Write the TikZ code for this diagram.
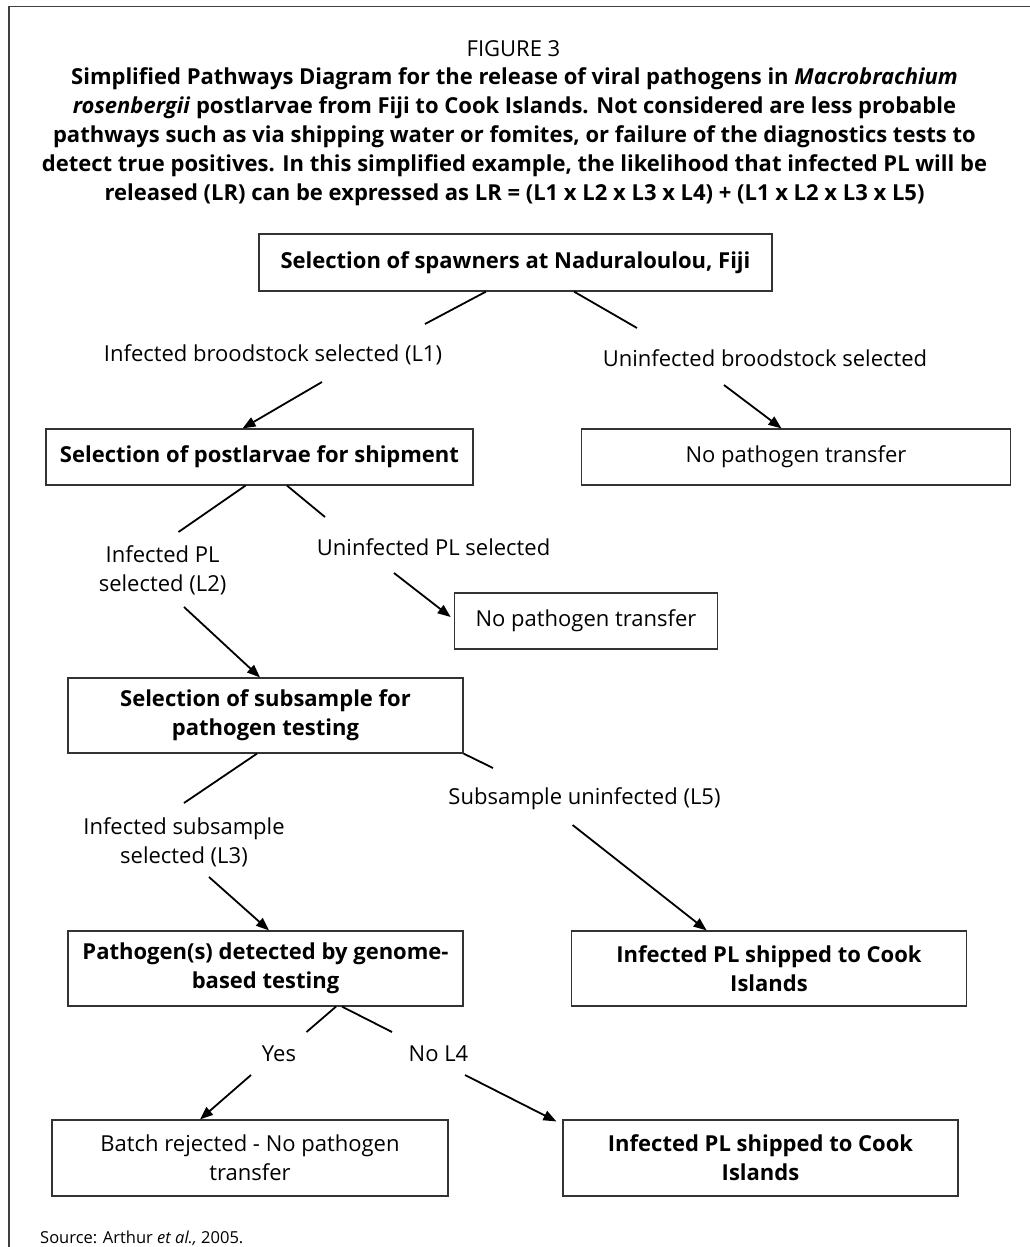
\documentclass[tikz,border=0pt]{standalone}
\usepackage{fontspec}
\setmainfont{Open Sans}
\usetikzlibrary{arrows.meta}
\begin{document}
\begin{tikzpicture}[x=1pt,y=-1pt,
  base/.style={font=\fontsize{22}{29}\selectfont, inner sep=0pt, align=center},
  box/.style={base, draw=black!80, line width=1.2pt},
  bbox/.style={box, font=\fontsize{22}{29}\selectfont\bfseries},
  lbl/.style={base},
  conn/.style={line width=1.8pt, black},
  arr/.style={conn, -{Triangle[length=13pt,width=10pt]}}]
\useasboundingbox (0,0) rectangle (1030,1247);
% frame
\draw[line width=1.6pt, black!75] (9,1260) -- (9,6.5) -- (1040,6.5);

% heading
\node[base] (fig) at (513.5,49) {FIGURE 3};
\node[base, font=\fontsize{22}{29}\selectfont\bfseries] (title) at (514.5,137)
 {Simplified Pathways Diagram for the release of viral pathogens in \textit{Macrobrachium}\\
  \textit{rosenbergii} postlarvae from Fiji to Cook Islands. Not considered are less probable\\
  pathways such as via shipping water or fomites, or failure of the diagnostics tests to\\
  detect true positives. In this simplified example, the likelihood that infected PL will be\\
  released (LR) can be expressed as LR = (L1 x L2 x L3 x L4) + (L1 x L2 x L3 x L5)};

% boxes
\node[bbox, minimum width=513pt, minimum height=57pt] (box1) at (515.5,262.5) {Selection of spawners at Naduraloulou, Fiji};
\node[bbox, minimum width=427pt, minimum height=56pt] (box2) at (259.5,457) {Selection of postlarvae for shipment};
\node[box, minimum width=428.5pt, minimum height=56pt] (box3) at (796,457) {No pathogen transfer};
\node[box, minimum width=263.5pt, minimum height=56pt] (box4) at (586,621) {No pathogen transfer};
\node[bbox, minimum width=395pt, minimum height=75pt] (box5) at (265.5,715.5) {Selection of subsample for\\pathogen testing};
\node[bbox, minimum width=395pt, minimum height=75pt] (box6) at (265.5,968.5) {Pathogen(s) detected by genome-\\based testing};
\node[bbox, minimum width=395pt, minimum height=75pt] (box7) at (769,968.5) {Infected PL shipped to Cook\\Islands};
\node[box, minimum width=396pt, minimum height=76pt] (box8) at (250,1158) {Batch rejected - No pathogen\\transfer};
\node[bbox, minimum width=395pt, minimum height=76pt] (box9) at (760.5,1158) {Infected PL shipped to Cook\\Islands};

% labels
\node[lbl] (lab1) at (273,355) {Infected broodstock selected (L1)};
\node[lbl] (lab2) at (765,358) {Uninfected broodstock selected};
\node[lbl] (lab3) at (162.6,570) {Infected PL\\selected (L2)};
\node[lbl] (lab4) at (433.6,547) {Uninfected PL selected};
\node[lbl] (lab5) at (584.5,799) {Subsample uninfected (L5)};
\node[lbl] (lab6) at (184,842) {Infected subsample\\selected (L3)};
\node[lbl] (lab7) at (279,1054) {Yes};
\node[lbl] (lab8) at (438.5,1054) {No L4};
\node[base, font=\fontsize{16.5}{20}\selectfont, anchor=west] (src) at (40,1238) {Source: Arthur \textit{et al.,} 2005.};

% connector ends near labels
\coordinate (k1) at (425,324);
\coordinate (k2) at (637,328);
\coordinate (k3) at (322,382);
\coordinate (k4) at (724,385);
\coordinate (k5) at (178.5,532);
\coordinate (k6) at (325,517);
\coordinate (k7) at (394,573);
\coordinate (k8) at (184,607);
\coordinate (k9) at (184,803);
\coordinate (k10) at (493,768);
\coordinate (k11) at (209,877);
\coordinate (k12) at (572.6,825);
\coordinate (k13) at (306.5,1032);
\coordinate (k14) at (392,1032);
\coordinate (k15) at (251,1075);
\coordinate (k16) at (465,1075);

% connectors
\draw[conn] ([xshift=-29.5pt]box1.south) -- (k1);
\draw[conn] ([xshift=58.5pt]box1.south) -- (k2);
\draw[arr] (k3) -- ([xshift=-17pt]box2.north);
\draw[arr] (k4) -- ([xshift=-14.5pt]box3.north);
\draw[conn] ([xshift=-14pt]box2.south) -- (k5);
\draw[conn] ([xshift=27.5pt]box2.south) -- (k6);
\draw[arr] (k7) -- ([xshift=-3pt,yshift=4pt]box4.west);
\draw[arr] (k8) -- ([xshift=-5.5pt]box5.north);
\draw[conn] ([xshift=-8.5pt]box5.south) -- (k9);
\draw[conn] (box5.south east) -- (k10);
\draw[arr] (k11) -- ([xshift=3.5pt]box6.north);
\draw[arr] (k12) -- ([xshift=-62.4pt]box7.north);
\draw[conn] ([xshift=70.5pt]box6.south) -- (k13);
\draw[conn] ([xshift=76.5pt]box6.south) -- (k14);
\draw[arr] (k15) -- ([xshift=-50pt]box8.north);
\draw[arr] (k16) -- ([xshift=-6pt,yshift=-2pt]box9.north west);
\end{tikzpicture}
\end{document}
